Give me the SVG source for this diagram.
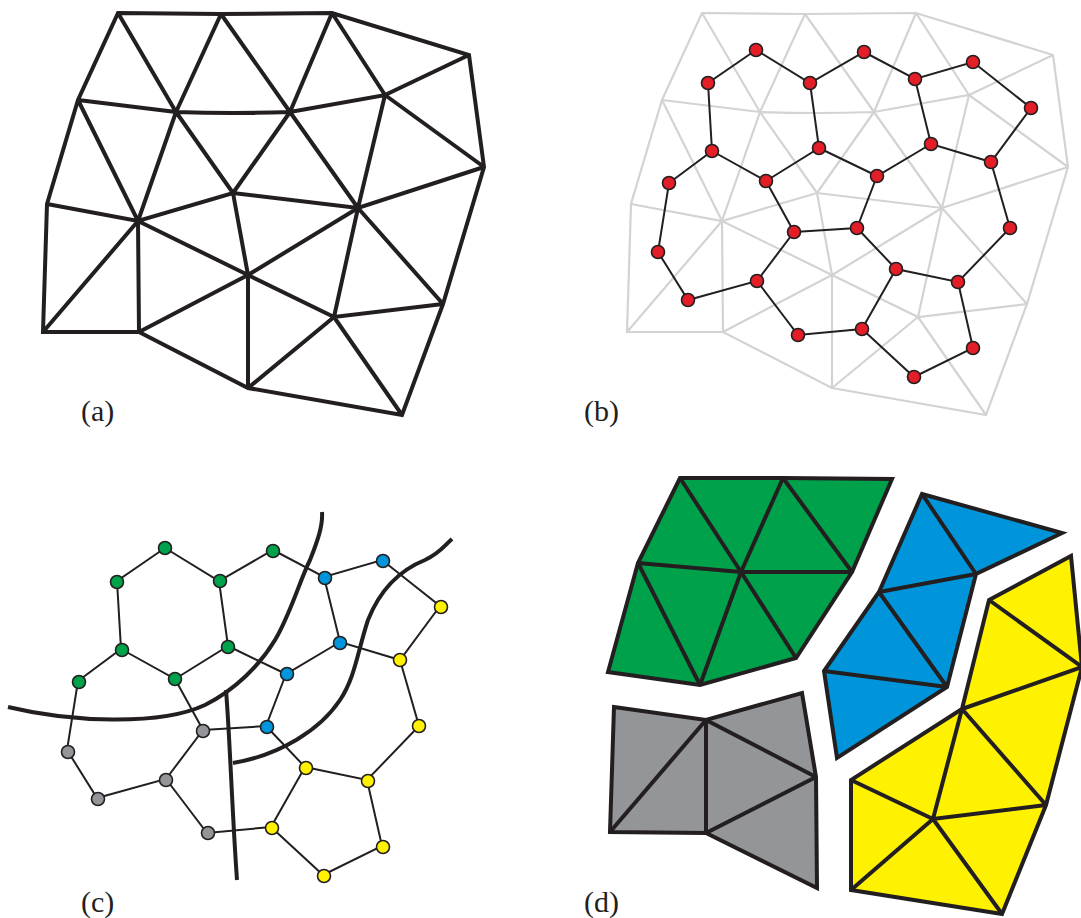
<svg xmlns="http://www.w3.org/2000/svg" xmlns:xlink="http://www.w3.org/1999/xlink" width="1081" height="918" viewBox="0 0 1081 918">
<style>
.lbl{font-family:"Liberation Serif","DejaVu Serif",serif;font-size:30px;fill:#231f20}
.thick{fill:none;stroke:#231f20;stroke-width:4;stroke-linejoin:miter}
.faint{fill:none;stroke:#d1d3d4;stroke-width:2.2}
.dual{fill:none;stroke:#231f20;stroke-width:2}
.cut{fill:none;stroke:#231f20;stroke-width:4;stroke-linecap:butt}
.dot{stroke:#231f20;stroke-width:1.6}
.red{fill:#e31e26}.grn{fill:#00a14b}.blu{fill:#0095da}.yel{fill:#fff200}.gry{fill:#939598}
.patch{stroke:#231f20;stroke-width:4;stroke-linejoin:miter}
.inner{fill:none;stroke:#231f20;stroke-width:4}
</style>
<defs>
<path id="mesh" d="M118,13 L221,14 L332,13 L469,55 L484,167 L443,304 L402,415 L248,388 L139,332 L43,332 L47,204 L78,100 Z
M78,100 L176,112 Q233,114 290,112 L385,95 L484,167
M47,204 L138,221 L233,193 L358,208 L484,167
M118,13 L176,112 M221,14 L176,112 M221,14 L290,112 M332,13 L290,112 M332,13 L385,95 M469,55 L385,95
M78,100 L138,221 M176,112 L138,221 M176,112 L233,193 M290,112 L233,193 M290,112 L358,208 M385,95 L358,208
M138,221 L43,332 M138,221 L139,332 M138,221 L248,275 M233,193 L248,275 M358,208 L248,275 M358,208 L334,317 M358,208 L443,304
M139,332 L248,275 L334,317 L443,304
M248,275 L248,388 M334,317 L248,388 M334,317 L402,415"/>
<path id="dualEdges" d="M756,50 L708,83 L712,151 L669,183 L658,252 L688,300 L757,281 L794,232 L766,181 L712,151
M756,50 L810,83 L864,52 L915,79 L973,62 L1031,108 L991,162 L931,144 L915,79
M810,83 L819,148 L766,181 M819,148 L877,176 L931,144
M877,176 L857,228 L794,232 M857,228 L896,269 L958,282 L1010,228 L991,162
M757,281 L798,335 L862,329 L896,269 M862,329 L914,377 L973,348 L958,282"/>
</defs>

<g id="panel-a">
<use xlink:href="#mesh" href="#mesh" class="thick"/>
<text class="lbl" x="81" y="421">(a)</text>
</g>

<g id="panel-b">
<use xlink:href="#mesh" href="#mesh" class="faint" transform="translate(584,0)"/>
<g id="connectors-b"><use xlink:href="#dualEdges" href="#dualEdges" class="dual"/></g>
<g id="nodes-b" class="dot red">
<circle id="b1" cx="756" cy="50" r="6.5"/><circle id="b2" cx="708" cy="83" r="6.5"/><circle id="b3" cx="810" cy="83" r="6.5"/>
<circle id="b4" cx="864" cy="52" r="6.5"/><circle id="b5" cx="915" cy="79" r="6.5"/><circle id="b6" cx="973" cy="62" r="6.5"/>
<circle id="b7" cx="1031" cy="108" r="6.5"/><circle id="b8" cx="712" cy="151" r="6.5"/><circle id="b9" cx="819" cy="148" r="6.5"/>
<circle id="b10" cx="931" cy="144" r="6.5"/><circle id="b11" cx="991" cy="162" r="6.5"/><circle id="b12" cx="669" cy="183" r="6.5"/>
<circle id="b13" cx="766" cy="181" r="6.5"/><circle id="b14" cx="877" cy="176" r="6.5"/><circle id="b15" cx="794" cy="232" r="6.5"/>
<circle id="b16" cx="857" cy="228" r="6.5"/><circle id="b17" cx="1010" cy="228" r="6.5"/><circle id="b18" cx="658" cy="252" r="6.5"/>
<circle id="b19" cx="757" cy="281" r="6.5"/><circle id="b20" cx="896" cy="269" r="6.5"/><circle id="b21" cx="958" cy="282" r="6.5"/>
<circle id="b22" cx="688" cy="300" r="6.5"/><circle id="b23" cx="798" cy="335" r="6.5"/><circle id="b24" cx="862" cy="329" r="6.5"/>
<circle id="b25" cx="973" cy="348" r="6.5"/><circle id="b26" cx="914" cy="377" r="6.5"/>
</g>
<text class="lbl" x="584" y="421">(b)</text>
</g>

<g id="panel-c">
<g id="connectors-c">
<use xlink:href="#dualEdges" href="#dualEdges" class="dual" transform="translate(-591,498)"/>
<path class="cut" d="M8,707 C70,722 160,726 205,705 C235,690 260,665 275,640 C290,615 300,580 310,560 C318,540 323,525 322,512"/>
<path class="cut" d="M226,690 C230,740 232,810 237,880"/>
<path class="cut" d="M233,763 C280,755 320,730 340,700 C355,678 358,650 368,620 C380,590 400,570 425,560 C440,553 445,545 452,539"/>
</g>
<g id="nodes-c" class="dot">
<circle id="c1" class="grn" cx="165" cy="548" r="6.5"/><circle id="c2" class="grn" cx="117" cy="582" r="6.5"/>
<circle id="c3" class="grn" cx="220" cy="581" r="6.5"/><circle id="c4" class="grn" cx="273" cy="551" r="6.5"/>
<circle id="c5" class="blu" cx="325" cy="578" r="6.5"/><circle id="c6" class="blu" cx="383" cy="561" r="6.5"/>
<circle id="c7" class="yel" cx="441" cy="607" r="6.5"/><circle id="c8" class="grn" cx="122" cy="650" r="6.5"/>
<circle id="c9" class="grn" cx="228" cy="647" r="6.5"/><circle id="c10" class="blu" cx="340" cy="643" r="6.5"/>
<circle id="c11" class="yel" cx="400" cy="660" r="6.5"/><circle id="c12" class="grn" cx="79" cy="682" r="6.5"/>
<circle id="c13" class="grn" cx="175" cy="679" r="6.5"/><circle id="c14" class="blu" cx="287" cy="674" r="6.5"/>
<circle id="c15" class="gry" cx="203" cy="731" r="6.5"/><circle id="c16" class="blu" cx="267" cy="727" r="6.5"/>
<circle id="c17" class="yel" cx="419" cy="726" r="6.5"/><circle id="c18" class="gry" cx="68" cy="752" r="6.5"/>
<circle id="c19" class="gry" cx="166" cy="780" r="6.5"/><circle id="c20" class="yel" cx="306" cy="768" r="6.5"/>
<circle id="c21" class="yel" cx="368" cy="781" r="6.5"/><circle id="c22" class="gry" cx="98" cy="799" r="6.5"/>
<circle id="c23" class="gry" cx="208" cy="833" r="6.5"/><circle id="c24" class="yel" cx="272" cy="828" r="6.5"/>
<circle id="c25" class="yel" cx="383" cy="847" r="6.5"/><circle id="c26" class="yel" cx="324" cy="876" r="6.5"/>
</g>
<text class="lbl" x="81" y="912">(c)</text>
</g>

<g id="panel-d">
<g id="patch-green">
<polygon class="patch grn" points="680,478 783,478 892,479 852,572 796,658 700,685 608,672 638,563"/>
<path class="inner" d="M680,478 L741,572 M783,478 L741,572 M783,478 L852,572 M638,563 L741,572 L852,572 M638,563 L700,685 M741,572 L700,685 M741,572 L796,658"/>
</g>
<g id="patch-blue">
<polygon class="patch blu" points="922,494 1062,533 976,574 947,687 837,758 824,671 879,592"/>
<path class="inner" d="M922,494 L976,574 M879,592 L976,574 M879,592 L947,687 M824,671 L947,687"/>
</g>
<g id="patch-yellow">
<polygon class="patch yel" points="989,600 1071,556 1082,667 1046,805 1002,914 851,890 851,780 962,709"/>
<path class="inner" d="M989,600 L1082,667 M962,709 L1082,667 M962,709 L1046,805 M962,709 L933,819 M851,780 L933,819 L1046,805 M933,819 L851,890 M933,819 L1002,914"/>
</g>
<g id="patch-gray">
<polygon class="patch gry" points="614,707 706,720 802,693 816,777 817,888 706,833 610,832"/>
<path class="inner" d="M706,720 L610,832 M706,720 L706,833 M706,720 L816,777 M706,833 L816,777"/>
</g>
<text class="lbl" x="584" y="912">(d)</text>
</g>
</svg>
